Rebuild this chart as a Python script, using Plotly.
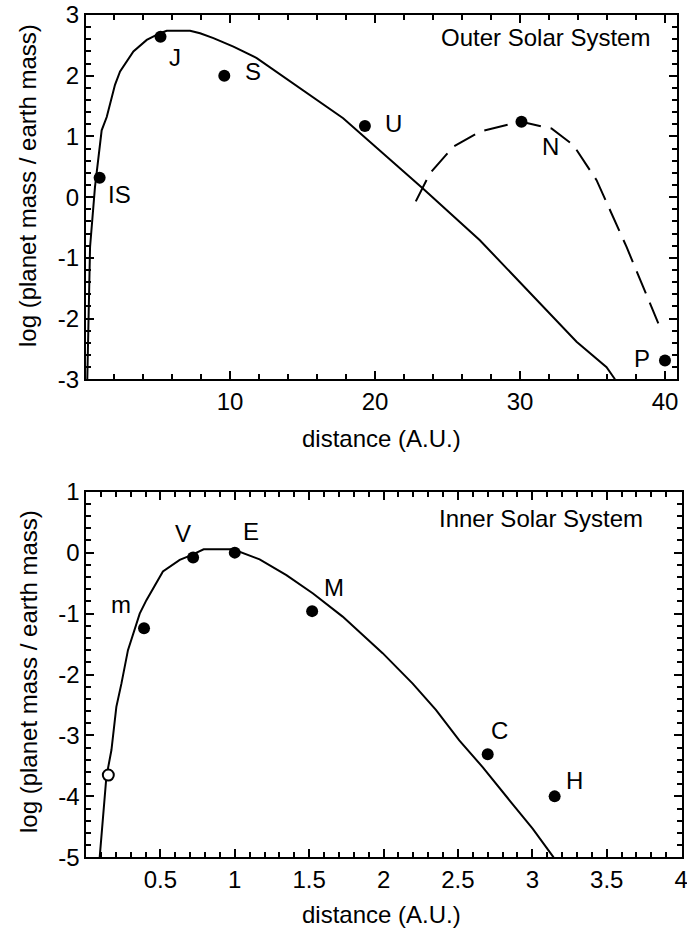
import plotly.graph_objects as go

# ---------------- data ----------------
# Outer solar system: planets
outer_names = ["IS", "J", "S", "U", "N", "P"]
outer_dist = [1.0, 5.2, 9.6, 19.3, 30.1, 40.0]
outer_logm = [0.32, 2.64, 2.0, 1.17, 1.24, -2.69]

# Outer solar system: model curve (solid)
outer_curve_x = [0.15, 0.34, 0.68, 1.14, 1.49, 2.06, 2.41, 3.33, 4.25, 5.17, 5.63,
                 7.24, 7.93, 8.85, 10.23, 11.84, 17.8, 23.32, 27.23, 33.9, 35.97, 36.55]
outer_curve_y = [-3.0, -0.82, 0.17, 1.10, 1.32, 1.85, 2.07, 2.40, 2.59, 2.70, 2.74,
                 2.74, 2.70, 2.62, 2.48, 2.29, 1.30, 0.14, -0.71, -2.38, -2.80, -3.0]

# Outer solar system: dashed curve
outer_dash_x = [22.81, 23.78, 25.39, 27.23, 29.3, 30.1, 32.17, 33.67, 35.28, 37.35, 39.54]
outer_dash_y = [-0.07, 0.39, 0.83, 1.08, 1.20, 1.24, 1.13, 0.86, 0.28, -0.82, -2.08]

# Inner solar system: planets (filled)
inner_names = ["m", "V", "E", "M", "C", "H"]
inner_dist = [0.39, 0.72, 1.0, 1.52, 2.7, 3.15]
inner_logm = [-1.24, -0.08, 0.0, -0.96, -3.31, -4.0]

# Inner solar system: open circle
open_dist = [0.15]
open_logm = [-3.65]

# Inner solar system: model curve
inner_curve_x = [0.092, 0.137, 0.171, 0.204, 0.238, 0.282, 0.361, 0.406, 0.517, 0.630,
                 0.708, 0.791, 0.988, 1.167, 1.347, 1.526, 1.725, 1.994, 2.196, 2.352,
                 2.509, 2.666, 2.845, 3.002, 3.143]
inner_curve_y = [-5.0, -3.68, -3.24, -2.53, -2.15, -1.60, -1.00, -0.78, -0.31, -0.12,
                 -0.04, 0.054, 0.054, -0.11, -0.37, -0.67, -1.05, -1.65, -2.15, -2.58,
                 -3.08, -3.52, -4.06, -4.53, -5.0]

outer_xticks = [10, 20, 30, 40]
outer_xticklabels = ["10", "20", "30", "40"]
outer_yticks = [-3, -2, -1, 0, 1, 2, 3]
outer_yticklabels = ["-3", "-2", "-1", "0", "1", "2", "3"]
inner_xticks = [0.5, 1, 1.5, 2, 2.5, 3, 3.5, 4]
inner_xticklabels = ["0.5", "1", "1.5", "2", "2.5", "3", "3.5", "4"]
inner_yticks = [-5, -4, -3, -2, -1, 0, 1]
inner_yticklabels = ["-5", "-4", "-3", "-2", "-1", "0", "1"]

# ---------------- styles ----------------
W, H = 687, 930
FONT = "Liberation Sans, Arial, Helvetica, sans-serif"
FS = 24
BLACK = "black"

# label offsets (pixels) for each planet label
outer_shift = {"IS": (20, -17), "J": (14, -21), "S": (29, 4), "U": (29, 3),
               "N": (29, -25), "P": (-23, 2)}
inner_shift = {"m": (-23, 24), "V": (-10, 24), "E": (16, 21), "M": (22, 24),
               "C": (12, 24), "H": (20, 16)}


def minor_vals(lo, hi, step):
    n = int(round((hi - lo) / step))
    return [round(lo + i * step, 6) for i in range(n + 1)]


fig = go.Figure()

# top panel
fig.add_trace(go.Scatter(x=outer_curve_x, y=outer_curve_y, mode="lines",
                         line=dict(color=BLACK, width=2), xaxis="x", yaxis="y",
                         showlegend=False, hoverinfo="skip"))
fig.add_trace(go.Scatter(x=outer_dash_x, y=outer_dash_y, mode="lines",
                         line=dict(color=BLACK, width=2, dash="24px,10px"),
                         xaxis="x", yaxis="y", showlegend=False, hoverinfo="skip"))
fig.add_trace(go.Scatter(x=outer_dist, y=outer_logm, mode="markers",
                         marker=dict(color=BLACK, size=12), xaxis="x", yaxis="y",
                         showlegend=False, cliponaxis=False))

# bottom panel
fig.add_trace(go.Scatter(x=inner_curve_x, y=inner_curve_y, mode="lines",
                         line=dict(color=BLACK, width=2), xaxis="x2", yaxis="y2",
                         showlegend=False, hoverinfo="skip"))
fig.add_trace(go.Scatter(x=inner_dist, y=inner_logm, mode="markers",
                         marker=dict(color=BLACK, size=12), xaxis="x2", yaxis="y2",
                         showlegend=False))
fig.add_trace(go.Scatter(x=open_dist, y=open_logm, mode="markers",
                         marker=dict(color="white", size=11,
                                     line=dict(color=BLACK, width=2)),
                         xaxis="x2", yaxis="y2", showlegend=False))

annotations = []
for n, x, y in zip(outer_names, outer_dist, outer_logm):
    dx, dy = outer_shift[n]
    annotations.append(dict(x=x, y=y, xref="x", yref="y", text=n, showarrow=False,
                            xshift=dx, yshift=dy, font=dict(size=FS, color=BLACK)))
for n, x, y in zip(inner_names, inner_dist, inner_logm):
    dx, dy = inner_shift[n]
    annotations.append(dict(x=x, y=y, xref="x2", yref="y2", text=n, showarrow=False,
                            xshift=dx, yshift=dy, font=dict(size=FS, color=BLACK)))


def px(x):
    return x / W


def py(y):
    return 1 - y / H


annotations += [
    dict(x=px(545), y=py(37), xref="paper", yref="paper", text="Outer Solar System",
         showarrow=False, font=dict(size=FS, color=BLACK), xanchor="center", yanchor="middle"),
    dict(x=px(541), y=py(518), xref="paper", yref="paper", text="Inner Solar System",
         showarrow=False, font=dict(size=FS, color=BLACK), xanchor="center", yanchor="middle"),
    dict(x=px(381), y=py(438), xref="paper", yref="paper", text="distance (A.U.)",
         showarrow=False, font=dict(size=FS, color=BLACK), xanchor="center", yanchor="middle"),
    dict(x=px(381), y=0, xref="paper", yref="paper", text="distance (A.U.)",
         showarrow=False, font=dict(size=FS, color=BLACK), xanchor="center", yanchor="bottom"),
    dict(x=px(28), y=py(186), xref="paper", yref="paper", text="log (planet mass / earth mass)",
         showarrow=False, textangle=-90, font=dict(size=FS, color=BLACK),
         xanchor="center", yanchor="middle"),
    dict(x=px(28), y=py(672), xref="paper", yref="paper", text="log (planet mass / earth mass)",
         showarrow=False, textangle=-90, font=dict(size=FS, color=BLACK),
         xanchor="center", yanchor="middle"),
]

axis_common = dict(showgrid=False, zeroline=False, showline=True, linecolor=BLACK,
                   linewidth=2, mirror="ticks", ticks="inside", ticklen=8, tickwidth=2,
                   tickcolor=BLACK, tickfont=dict(size=FS, color=BLACK, family=FONT),
                   automargin=False, tickmode="array", ticklabeloverflow="allow")


def minor(vals):
    return dict(tickmode="array", tickvals=vals, ticks="inside", ticklen=5,
                tickwidth=2, tickcolor=BLACK, showgrid=False)


fig.update_layout(
    width=W, height=H,
    margin=dict(l=0, r=0, t=0, b=0),
    paper_bgcolor="white", plot_bgcolor="white",
    font=dict(family=FONT, size=FS, color=BLACK),
    showlegend=False,
    xaxis=dict(domain=[px(86), px(677.3)], range=[0.06, 40.85], anchor="y",
               tickvals=outer_xticks, ticktext=outer_xticklabels,
               minor=minor(minor_vals(2, 40, 2)), **axis_common),
    yaxis=dict(domain=[py(379.3), py(15)], range=[-3, 3], anchor="x",
               tickvals=outer_yticks, ticktext=outer_yticklabels,
               minor=minor(minor_vals(-3, 3, 0.2)), **axis_common),
    xaxis2=dict(domain=[px(86.3), px(681.7)], range=[0.002, 4.004], anchor="y2",
                tickvals=inner_xticks, ticktext=inner_xticklabels,
                minor=minor(minor_vals(0.1, 4, 0.1)), **axis_common),
    yaxis2=dict(domain=[py(857.3), py(491.7)], range=[-5, 1], anchor="x2",
                tickvals=inner_yticks, ticktext=inner_yticklabels,
                minor=minor(minor_vals(-5, 1, 0.2)), **axis_common),
    annotations=annotations,
)

fig.write_html("out.html")
